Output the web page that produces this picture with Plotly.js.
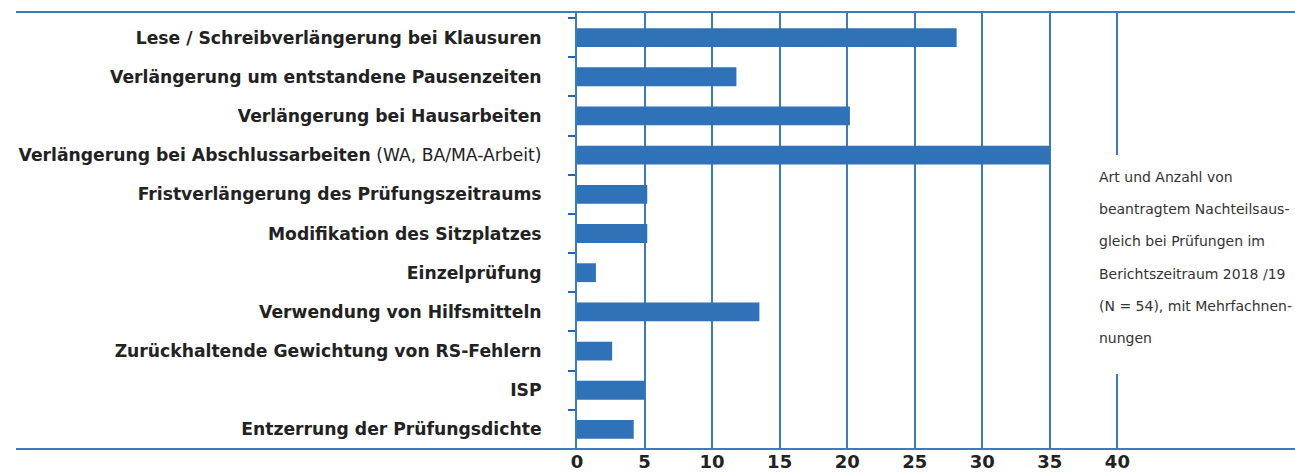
<!DOCTYPE html>
<html>
<head>
<meta charset="utf-8">
<script src="https://cdn.plot.ly/plotly-3.0.1.min.js"></script>
<style>html,body{margin:0;padding:0;background:#fff;}#chart{width:1295px;height:473px;}</style>
</head>
<body>
<div id="chart"></div>
<script>
const categories = [
  "Lese / Schreibverlängerung bei Klausuren",
  "Verlängerung um entstandene Pausenzeiten",
  "Verlängerung bei Hausarbeiten",
  "Verlängerung bei Abschlussarbeiten (WA, BA/MA-Arbeit)",
  "Fristverlängerung des Prüfungszeitraums",
  "Modifikation des Sitzplatzes",
  "Einzelprüfung",
  "Verwendung von Hilfsmitteln",
  "Zurückhaltende Gewichtung von RS-Fehlern",
  "ISP",
  "Entzerrung der Prüfungsdichte"
];
const tickLabels = [
  "<b>Lese / Schreibverlängerung bei Klausuren</b>",
  "<b>Verlängerung um entstandene Pausenzeiten</b>",
  "<b>Verlängerung bei Hausarbeiten</b>",
  "<b>Verlängerung bei Abschlussarbeiten</b> (WA, BA/MA-Arbeit)",
  "<b>Fristverlängerung des Prüfungszeitraums</b>",
  "<b>Modifikation des Sitzplatzes</b>",
  "<b>Einzelprüfung</b>",
  "<b>Verwendung von Hilfsmitteln</b>",
  "<b>Zurückhaltende Gewichtung von RS-Fehlern</b>",
  "<b>ISP</b>",
  "<b>Entzerrung der Prüfungsdichte</b>"
];
const values = [28.1, 11.8, 20.2, 35, 5.2, 5.2, 1.4, 13.5, 2.6, 5, 4.2];
const xTicks = [0, 5, 10, 15, 20, 25, 30, 35, 40];
const noteLines = [
  "Art und Anzahl von",
  "beantragtem Nachteilsaus-",
  "gleich bei Prüfungen im",
  "Berichtszeitraum 2018 /19",
  "(N = 54), mit Mehrfachnen-",
  "nungen"
];

const blue = "#2f72b7";
const lineBlue = "#3b7bc2";

const trace = {
  type: "bar",
  orientation: "h",
  x: values,
  y: categories,
  marker: {color: blue},
  hoverinfo: "x+y"
};

const plotTop = 12, plotBottom = 449, H = 473;
function py(pix){ return (plotBottom - pix) / (plotBottom - plotTop); }
const plotLeft = 577, plotW = 1295 - 577;
function px(pix){ return (pix - plotLeft) / plotW; }

const annotations = noteLines.map((t, i) => ({
  xref: "paper", yref: "paper",
  x: px(1097), y: py(177 + i * 32.2),
  xanchor: "left", yanchor: "middle",
  text: t, showarrow: false,
  font: {family: "DejaVu Sans", size: 14, color: "#333"}
}));

const layout = {
  width: 1295, height: 473,
  margin: {l: plotLeft, r: 0, t: plotTop, b: H - plotBottom, pad: 0},
  paper_bgcolor: "#fff", plot_bgcolor: "#fff",
  showlegend: false,
  bargap: 0.52,
  xaxis: {
    range: [0, plotW / 13.51],
    tickmode: "array", tickvals: xTicks, ticktext: xTicks.map(String),
    showgrid: true, gridcolor: lineBlue, gridwidth: 2,
    zeroline: false, showline: false, ticks: "",
    tickfont: {family: "DejaVu Sans", size: 18, color: "#222", weight: "bold"},
    fixedrange: true
  },
  yaxis: {
    type: "category",
    categoryorder: "array", categoryarray: categories,
    tickmode: "array", tickvals: categories, ticktext: tickLabels,
    range: [10.5, -0.653],
    showgrid: false, zeroline: false,
    showline: true, linecolor: lineBlue, linewidth: 2,
    ticks: "outside", tickson: "boundaries", ticklen: 7, tickwidth: 2, tickcolor: "#1f66b3",
    ticklabelstandoff: 30,
    tickfont: {family: "DejaVu Sans", size: 17.2, color: "#222"},
    fixedrange: true
  },
  shapes: [
    {type: "rect", xref: "x", yref: "paper", x0: 38.5, x1: 41.5, y0: py(374), y1: py(155),
     fillcolor: "#fff", line: {width: 0}, layer: "above"},
    {type: "line", xref: "paper", yref: "paper", x0: px(16), x1: 1, y0: 1, y1: 1,
     line: {color: lineBlue, width: 2}},
    {type: "line", xref: "paper", yref: "paper", x0: px(16), x1: 1, y0: 0, y1: 0,
     line: {color: lineBlue, width: 2}}
  ],
  annotations: annotations
};

Plotly.newPlot("chart", [trace], layout, {displayModeBar: false, staticPlot: true});
</script>
</body>
</html>
